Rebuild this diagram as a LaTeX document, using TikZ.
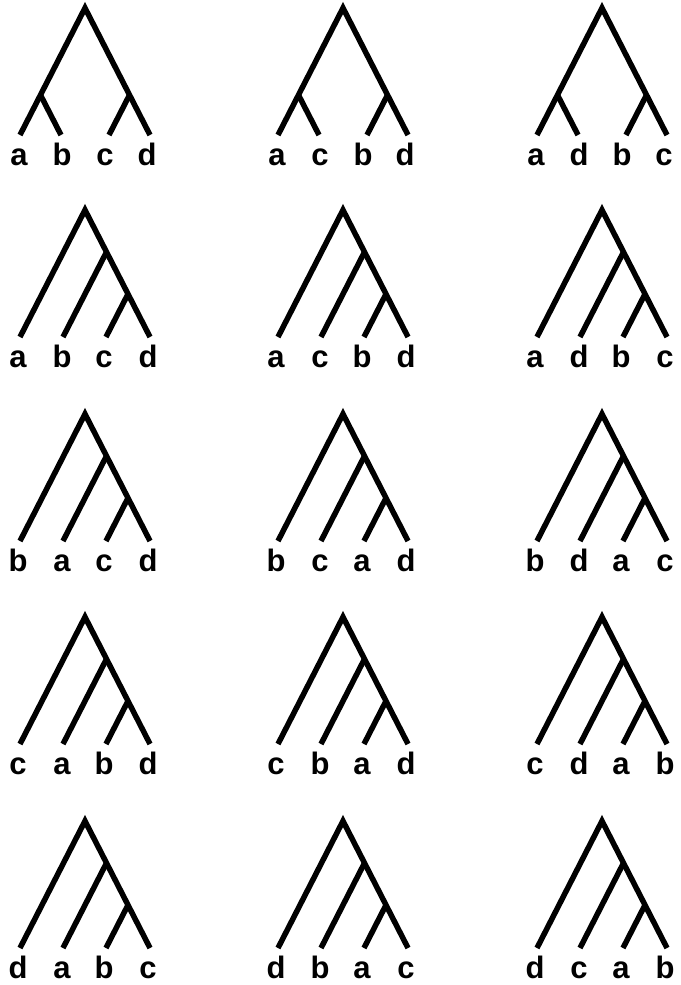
\documentclass[tikz,border=0pt]{standalone}
\usepackage{fontspec}
\setmainfont{Liberation Sans}
\begin{document}
\begin{tikzpicture}[x=1pt,y=-1pt,
  branch/.style={line width=5.5pt, line join=miter, line cap=butt},
  leaflabel/.style={anchor=base, inner sep=0pt, font=\bfseries\fontsize{31}{31}\selectfont}]
\useasboundingbox (0,0) rectangle (680,985);
% balanced trees (first row)
\foreach \X/\la/\lb/\lc/\ld/\n in {85/a/b/c/d/s1, 343/a/c/b/d/s2, 602/a/d/b/c/s3} {
  \coordinate (\n-r) at (\X,8);
  \coordinate (\n-u) at (\X-44.5,95);
  \coordinate (\n-v) at (\X+44.5,95);
  \coordinate (\n-a) at (\X-65,135);
  \coordinate (\n-b) at (\X-24,135);
  \coordinate (\n-c) at (\X+24,135);
  \coordinate (\n-d) at (\X+65,135);
  \draw[branch] (\n-a) -- (\n-r) -- (\n-d);
  \draw[branch] (\n-u) -- (\n-b);
  \draw[branch] (\n-v) -- (\n-c);
  \node[leaflabel] (\n-la) at (\X-66,165) {\la};
  \node[leaflabel] (\n-lb) at (\X-23,165) {\lb};
  \node[leaflabel] (\n-lc) at (\X+20,165) {\lc};
  \node[leaflabel] (\n-ld) at (\X+62,165) {\ld};
}
% caterpillar trees (rows 2-5)
\foreach \X/\Y/\la/\lb/\lc/\ld/\n in {
  85/210/a/b/c/d/c1, 343/210/a/c/b/d/c2, 602/210/a/d/b/c/c3,
  85/414/b/a/c/d/c4, 343/414/b/c/a/d/c5, 602/414/b/d/a/c/c6,
  85/617/c/a/b/d/c7, 343/617/c/b/a/d/c8, 602/617/c/d/a/b/c9,
  85/821/d/a/b/c/c10, 343/821/d/b/a/c/c11, 602/821/d/c/a/b/c12} {
  \coordinate (\n-r) at (\X,\Y);
  \coordinate (\n-u) at (\X+21.5,\Y+42);
  \coordinate (\n-v) at (\X+43,\Y+84);
  \coordinate (\n-a) at (\X-65,\Y+127);
  \coordinate (\n-b) at (\X-22,\Y+127);
  \coordinate (\n-c) at (\X+21,\Y+127);
  \coordinate (\n-d) at (\X+65,\Y+127);
  \draw[branch] (\n-a) -- (\n-r) -- (\n-d);
  \draw[branch] (\n-u) -- (\n-b);
  \draw[branch] (\n-v) -- (\n-c);
  \node[leaflabel] (\n-la) at (\X-67,\Y+157) {\la};
  \node[leaflabel] (\n-lb) at (\X-23,\Y+157) {\lb};
  \node[leaflabel] (\n-lc) at (\X+19,\Y+157) {\lc};
  \node[leaflabel] (\n-ld) at (\X+63,\Y+157) {\ld};
}
\end{tikzpicture}
\end{document}
